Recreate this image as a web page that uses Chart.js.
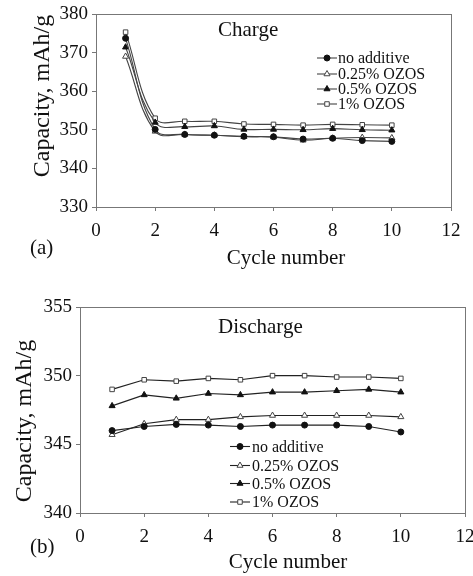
<!DOCTYPE html>
<html><head><meta charset="utf-8">
<script src="https://cdn.jsdelivr.net/npm/chart.js@4/dist/chart.umd.min.js"></script>
<style>
html,body{margin:0;padding:0;background:#fff;width:473px;height:576px;overflow:hidden}
canvas{position:absolute;left:0}
#c1{top:0}#c2{top:290px}
</style></head>
<body>
<canvas id="c1" width="473" height="290"></canvas>
<canvas id="c2" width="473" height="286"></canvas>
<script>
// ---- data ----
const cycles = [1,2,3,4,5,6,7,8,9,10];
const seriesNames = ['no additive','0.25% OZOS','0.5% OZOS','1% OZOS'];
const chargeNoAdditive = [373.7,350.1,348.8,348.6,348.3,348.2,347.6,347.8,347.2,347.0];
const charge025 = [369.0,349.6,348.8,348.6,348.2,348.1,347.3,347.8,348.0,347.9];
const charge05 = [371.4,351.9,350.8,351.0,350.1,350.1,350.0,350.3,350.0,349.9];
const charge1 = [375.3,353.0,352.2,352.2,351.5,351.4,351.2,351.4,351.3,351.2];
const dischargeNoAdditive = [346.0,346.3,346.45,346.4,346.3,346.4,346.4,346.4,346.3,345.9];
const discharge025 = [345.7,346.5,346.8,346.8,347.0,347.1,347.1,347.1,347.1,347.0];
const discharge05 = [347.8,348.6,348.35,348.7,348.6,348.8,348.8,348.9,349.0,348.8];
const discharge1 = [349.0,349.7,349.6,349.8,349.7,350.0,350.0,349.9,349.9,349.8];
const xTicks = [0,2,4,6,8,10,12];
const chargeYTicks = [330,340,350,360,370,380];
const dischargeYTicks = [340,345,350,355];

const SERIF = '"Liberation Serif","Times New Roman",serif';
const markerStyles = [
  {pointStyle:'circle', bg:'#111', bd:'#111', r:3},
  {pointStyle:'triangle', bg:'#fff', bd:'#444', r:3.5},
  {pointStyle:'triangle', bg:'#111', bd:'#111', r:3.5},
  {pointStyle:'rect', bg:'#fff', bd:'#444', r:3.2}
];

function makeDatasets(arrs, lineColor, tension){
  return arrs.map((vals,i)=>({
    label: seriesNames[i],
    data: cycles.map((c,j)=>({x:c, y:vals[j]})),
    borderColor: lineColor,
    borderWidth: 1.1,
    tension: tension,
    pointStyle: markerStyles[i].pointStyle,
    pointRadius: markerStyles[i].r,
    pointBackgroundColor: markerStyles[i].bg,
    pointBorderColor: markerStyles[i].bd,
    pointBorderWidth: 1,
    fill:false
  }));
}

const framePlugin = {
  id:'frame',
  afterDatasetsDraw(chart){
    const {ctx, chartArea:a} = chart;
    ctx.save();
    ctx.strokeStyle = '#777';
    ctx.lineWidth = 1;
    ctx.strokeRect(Math.round(a.left)+0.5, Math.round(a.top)+0.5, Math.round(a.right-a.left), Math.round(a.bottom-a.top));
    ctx.restore();
  }
};

const extrasPlugin = {
  id:'extras',
  afterDraw(chart, args, opts){
    const ctx = chart.ctx;
    ctx.save();
    ctx.fillStyle = '#111';
    (opts.texts||[]).forEach(t=>{
      ctx.save();
      ctx.font = t.size + 'px ' + SERIF;
      ctx.textAlign = t.align || 'left';
      ctx.textBaseline = t.baseline || 'alphabetic';
      ctx.translate(t.x, t.y);
      if (t.rot) ctx.rotate(t.rot);
      ctx.fillText(t.text, 0, 0);
      ctx.restore();
    });
    const L = opts.legend;
    if (L){
      chart.data.datasets.forEach((ds,i)=>{
        const y = L.rows[i];
        ctx.strokeStyle = ds.borderColor;
        ctx.lineWidth = 1.1;
        ctx.beginPath();
        ctx.moveTo(L.x0, y); ctx.lineTo(L.x1, y); ctx.stroke();
        ctx.fillStyle = ds.pointBackgroundColor;
        ctx.strokeStyle = ds.pointBorderColor;
        ctx.lineWidth = 1;
        Chart.helpers.drawPoint(ctx, {pointStyle: ds.pointStyle, radius: ds.pointRadius, borderWidth:1, rotation:0}, (L.x0+L.x1)/2, y);
        ctx.fillStyle = '#111';
        ctx.font = L.size + 'px ' + SERIF;
        ctx.textAlign = 'left';
        ctx.textBaseline = 'middle';
        ctx.fillText(ds.label, L.tx, y+1);
      });
    }
    ctx.restore();
  }
};

function makeChart(id, datasets, yTicks, geom, extras){
  const ymin = yTicks[0], ymax = yTicks[yTicks.length-1];
  const step = yTicks[1]-yTicks[0];
  return new Chart(document.getElementById(id), {
    type:'line',
    data:{datasets},
    plugins:[framePlugin, extrasPlugin],
    options:{
      responsive:false,
      animation:false,
      devicePixelRatio:1,
      layout:{padding:{left:0, top:geom.top, right:geom.right, bottom:0}},
      plugins:{legend:{display:false}, tooltip:{enabled:false}, extras:extras},
      scales:{
        x:{
          type:'linear', min:xTicks[0], max:xTicks[xTicks.length-1],
          afterBuildTicks(s){ s.ticks = xTicks.map(v=>({value:v})); },
          afterFit(s){ s.height = geom.xh; s.paddingLeft=0; s.paddingRight=0; },
          ticks:{font:{family:SERIF, size:geom.tick}, color:'#111', padding:geom.xpad, maxRotation:0, autoSkip:false},
          grid:{display:true, drawOnChartArea:false, drawTicks:true, tickLength:4, color:'#777'},
          border:{display:true, color:'#777'}
        },
        y:{
          type:'linear', min:ymin, max:ymax,
          afterBuildTicks(s){ s.ticks = yTicks.map(v=>({value:v})); },
          afterFit(s){ s.width = geom.yw; s.paddingTop=0; s.paddingBottom=0; },
          ticks:{font:{family:SERIF, size:geom.tick}, color:'#111', padding:geom.ypad, stepSize:step, autoSkip:false},
          grid:{display:true, drawOnChartArea:false, drawTicks:true, tickLength:4, color:'#777'},
          border:{display:true, color:'#777'}
        }
      }
    }
  });
}

makeChart('c1', makeDatasets([chargeNoAdditive,charge025,charge05,charge1], '#444', 0.4), chargeYTicks,
  {top:14, right:22, xh:83, yw:96, tick:19, xpad:9, ypad:4},
  {
    texts:[
      {text:'Charge', x:218, y:36, size:21},
      {text:'Capacity, mAh/g', x:43, y:96, size:24, align:'center', baseline:'middle', rot:-Math.PI/2},
      {text:'Cycle number', x:286, y:264, size:21, align:'center'},
      {text:'(a)', x:30, y:254, size:21}
    ],
    legend:{x0:317, x1:337, tx:338, rows:[58,74,89,104], size:16}
  });

makeChart('c2', makeDatasets([dischargeNoAdditive,discharge025,discharge05,discharge1], '#222', 0), dischargeYTicks,
  {top:17, right:8, xh:63, yw:80, tick:19, xpad:9, ypad:4},
  {
    texts:[
      {text:'Discharge', x:218, y:43, size:21},
      {text:'Capacity, mAh/g', x:25, y:131, size:24, align:'center', baseline:'middle', rot:-Math.PI/2},
      {text:'Cycle number', x:288, y:278, size:21, align:'center'},
      {text:'(b)', x:30, y:263, size:21}
    ],
    legend:{x0:230, x1:250, tx:252, rows:[156.5,175.5,193.5,212], size:16}
  });
</script>
</body></html>
